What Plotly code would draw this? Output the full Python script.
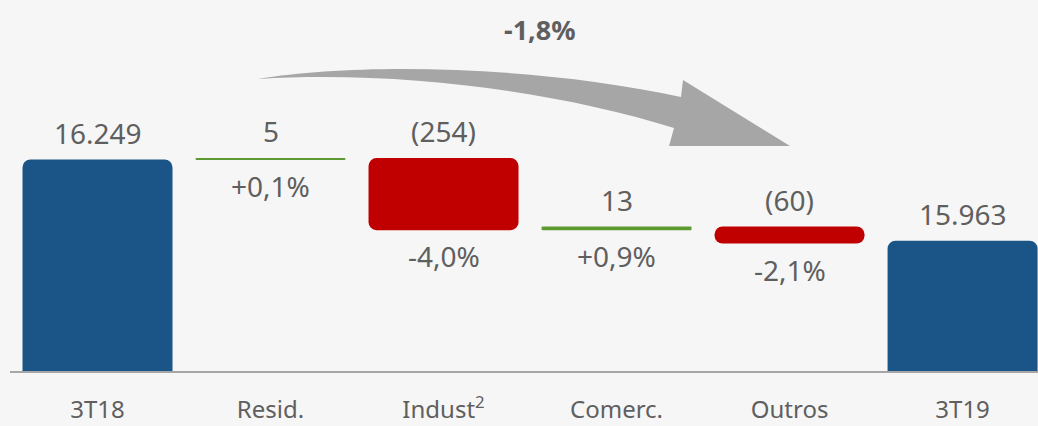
import numpy as np
import plotly.graph_objects as go

categories = ["3T18", "Resid.", "Indust<sup>2</sup>", "Comerc.", "Outros", "3T19"]
start_value = 16249
end_value = 15963
changes = [5, -254, 13, -60]
value_labels = ["16.249", "5", "(254)", "13", "(60)", "15.963"]
pct_labels = ["", "+0,1%", "-4,0%", "+0,9%", "-2,1%", ""]
total_change = "-1,8%"

FONT = "Noto Sans, DejaVu Sans"
TXT = "#5f5f5f"
BLUE, GREEN, RED = "#1b5486", "#5e9a32", "#c00000"

# waterfall geometry from the data
chg = np.array(changes)
after = start_value + np.cumsum(chg)
before = np.concatenate([[start_value], after[:-1]])
bases = [0] + list(np.minimum(before, after)) + [0]
lengths = [start_value] + list(np.abs(chg)) + [end_value]
tops = [start_value] + list(np.maximum(before, after)) + [end_value]
bottoms = [None] + list(np.minimum(before, after)) + [None]
colors = [BLUE] + [GREEN if c > 0 else RED for c in changes] + [BLUE]
xs = list(range(len(categories)))

fig = go.Figure(go.Bar(
    x=xs, y=lengths, base=bases, width=0.867,
    marker=dict(color=colors, cornerradius=8, line=dict(width=0)),
    hoverinfo="skip",
))

for i in xs:
    fig.add_annotation(x=i, y=tops[i], text=value_labels[i], showarrow=False,
                       yanchor="middle", yshift=27,
                       font=dict(family=FONT, size=28, color=TXT))
    if pct_labels[i]:
        fig.add_annotation(x=i, y=bottoms[i], text=pct_labels[i], showarrow=False,
                           yanchor="middle", yshift=-26,
                           font=dict(family=FONT, size=28, color=TXT))

# curved arrow (pixel coords -> paper)
def p(x, y):
    return f"{(x - 10) / 1028:.4f},{(371 - y) / 371:.4f}"

arrow = ("M " + p(258, 79) + " C " + p(360, 62) + " " + p(540, 66) + " " + p(681, 97)
         + " L " + p(683, 80) + " L " + p(790, 146) + " L " + p(669, 146)
         + " L " + p(674, 128) + " C " + p(560, 92) + " " + p(400, 70) + " " + p(258, 79) + " Z")
fig.add_shape(type="path", path=arrow, xref="paper", yref="paper",
              fillcolor="#a6a6a6", line=dict(width=0), layer="above")

fig.add_annotation(x=(540 - 10) / 1028, y=(371 - 29) / 371, xref="paper", yref="paper",
                   text="<b>" + total_change + "</b>", showarrow=False,
                   xanchor="center", yanchor="middle",
                   font=dict(family=FONT, size=27, color=TXT))

fig.update_layout(
    width=1038, height=426,
    margin=dict(l=10, r=0, t=0, b=55),
    paper_bgcolor="#f6f6f6", plot_bgcolor="#f6f6f6",
    showlegend=False,
    xaxis=dict(range=[-0.5058, 5.436], tickvals=xs, ticktext=categories,
               showgrid=False, zeroline=False, showline=True, linecolor="#a6a6a6",
               linewidth=2, ticks="", ticklabelstandoff=16, automargin=False,
               tickfont=dict(family=FONT, size=24, color=TXT)),
    yaxis=dict(range=[15504, 16811], visible=False, showgrid=False, zeroline=False,
               automargin=False),
)

fig.write_html("out.html", config={"displayModeBar": False},
               post_script="document.body.style.margin='0';document.body.style.overflow='hidden';")
